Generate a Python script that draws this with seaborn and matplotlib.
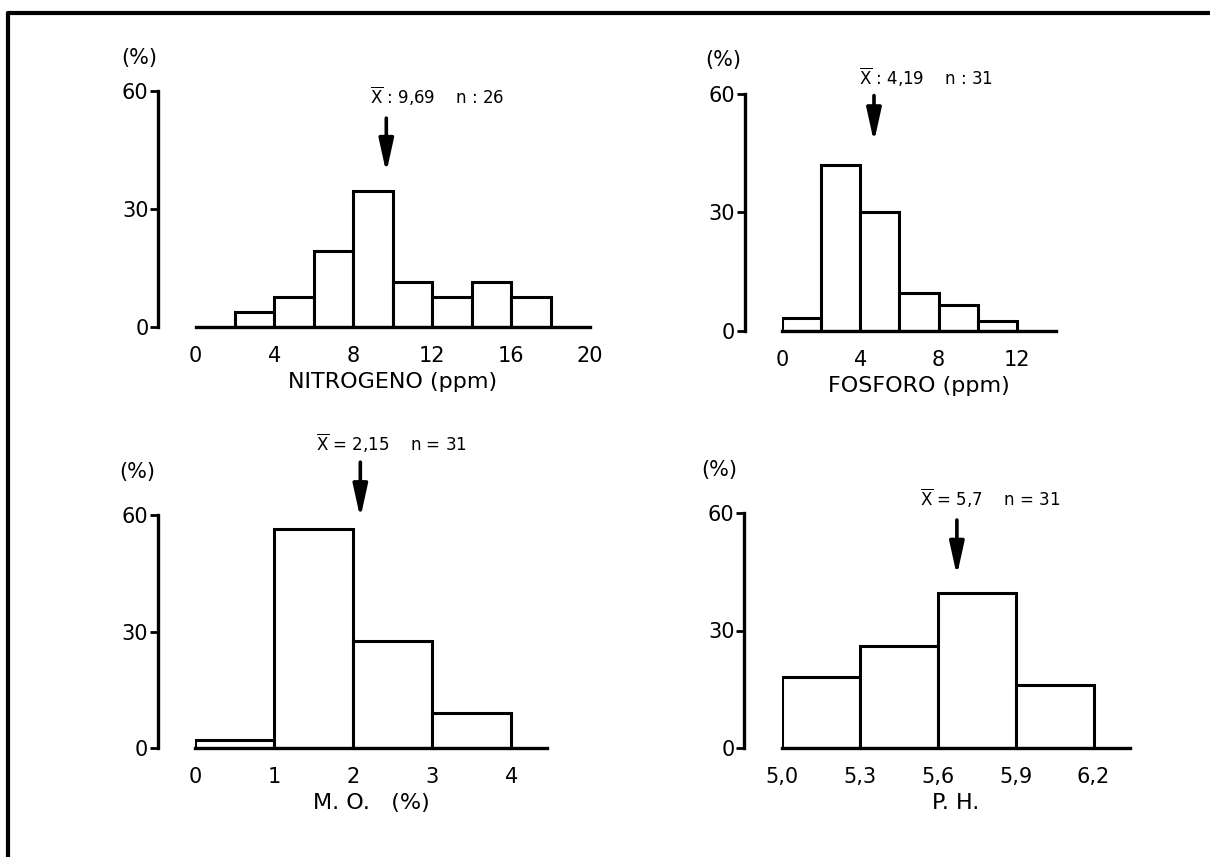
import numpy as np
import pandas as pd
import matplotlib.pyplot as plt
import seaborn as sns
from matplotlib.lines import Line2D

# bin edges and bar heights (% of samples)
nitro_edges = [2, 4, 6, 8, 10, 12, 14, 16, 18]
nitro_pct = [3.8, 7.7, 19.2, 34.6, 11.5, 7.7, 11.5, 7.7]
fosforo_edges = [0, 2, 4, 6, 8, 10, 12]
fosforo_pct = [3.2, 42.0, 30.0, 9.7, 6.5, 2.5]
mo_edges = [0, 1, 2, 3, 4]
mo_pct = [2.0, 56.5, 27.5, 9.0]
ph_edges = [5.0, 5.3, 5.6, 5.9, 6.2]
ph_pct = [18.1, 26.1, 39.7, 16.1]

# axis ticks
nitro_ticks = [0, 4, 8, 12, 16, 20]
fosforo_ticks = [0, 4, 8, 12]
mo_ticks = [0, 1, 2, 3, 4]
ph_ticks = [5.0, 5.3, 5.6, 5.9, 6.2]
ph_ticklabels = ["5,0", "5,3", "5,6", "5,9", "6,2"]
y_ticks = [0, 30, 60]

# mean arrows (x position, tail, tip) and the notes above them
nitro_arrow = (9.67, 53.1, 39.2)
fosforo_arrow = (4.7, 59.6, 47.8)
mo_arrow = (2.09, 73.6, 59.2)
ph_arrow = (5.674, 58.2, 44.0)
nitro_note = r"$\overline{\mathrm{X}}$ : 9,69    n : 26"
fosforo_note = r"$\overline{\mathrm{X}}$ : 4,19    n : 31"
mo_note = r"$\overline{\mathrm{X}}$ = 2,15    n = 31"
ph_note = r"$\overline{\mathrm{X}}$ = 5,7    n = 31"

sns.set_style("white")
plt.rcParams["font.family"] = ["DejaVu Sans"]
plt.rcParams["mathtext.fontset"] = "dejavusans"
plt.rcParams["text.color"] = "black"
plt.rcParams["axes.labelcolor"] = "black"
plt.rcParams["xtick.color"] = "black"
plt.rcParams["ytick.color"] = "black"
plt.rcParams["axes.edgecolor"] = "black"

fig = plt.figure(figsize=(12.1, 8.57), dpi=100)


def draw_panel(rect, edges, pct, xlim, ticks, ticklabels, xlabel,
               arrow, note, note_xy, ylab_off):
    ax = fig.add_axes(rect)
    e = np.array(edges, dtype=float)
    df = pd.DataFrame({"mid": (e[:-1] + e[1:]) / 2, "pct": pct})
    sns.histplot(data=df, x="mid", weights="pct", bins=list(edges), ax=ax,
                 color="white", edgecolor="black", linewidth=2.2, alpha=1)
    ax.set_xlim(*xlim)
    ax.set_ylim(0, 60)
    ax.set_xticks(ticks)
    ax.set_xticklabels(ticklabels)
    ax.set_yticks(y_ticks)
    ax.set_ylabel("")
    ax.set_xlabel(xlabel, fontsize=16, labelpad=4)
    for s in ["top", "right"]:
        ax.spines[s].set_visible(False)
    ax.spines["left"].set_position(("outward", 27))
    ax.spines["left"].set_linewidth(2.4)
    ax.spines["bottom"].set_linewidth(2.4)
    ax.tick_params(axis="y", left=True, direction="out", length=6, width=2,
                   labelsize=15, pad=1)
    ax.tick_params(axis="x", length=0, labelsize=15, pad=14)
    ax.annotate("(%)", xy=(0, 1), xycoords="axes fraction",
                xytext=ylab_off, textcoords="offset pixels",
                ha="center", va="center", fontsize=15)
    ax.annotate("", xy=(arrow[0], arrow[2]), xytext=(arrow[0], arrow[1]),
                arrowprops=dict(arrowstyle="-|>,head_length=1.0,head_width=0.22",
                                color="black", lw=2.6, mutation_scale=20,
                                shrinkA=0, shrinkB=0),
                annotation_clip=False)
    ax.text(note_xy[0], note_xy[1], note, ha="center", va="center",
            fontsize=12, clip_on=False)
    return ax


W, H = 1210, 857


def rect(left, right, top, bottom):
    return [left / W, 1 - bottom / H, (right - left) / W, (bottom - top) / H]


draw_panel(rect(195.6, 590, 91, 327), nitro_edges, nitro_pct, (0, 20),
           nitro_ticks, [str(t) for t in nitro_ticks], "NITROGENO (ppm)",
           nitro_arrow, nitro_note, (12.25, 58.5), (-56, 33))
draw_panel(rect(782, 1056, 94, 331), fosforo_edges, fosforo_pct, (0, 14),
           fosforo_ticks, [str(t) for t in fosforo_ticks], "FOSFORO (ppm)",
           fosforo_arrow, fosforo_note, (7.35, 64.3), (-59, 34))
draw_panel(rect(195, 547, 515, 748), mo_edges, mo_pct, (0, 4.45),
           mo_ticks, [str(t) for t in mo_ticks], "M. O.   (%)",
           mo_arrow, mo_note, (2.48, 78.5), (-58, 43))
draw_panel(rect(781.7, 1130, 513, 748), ph_edges, ph_pct, (5.0, 6.34),
           ph_ticks, ph_ticklabels, "P. H.",
           ph_arrow, ph_note, (5.80, 63.6), (-62, 43))

# page border (top and left edge of the scan)
fig.add_artist(Line2D([8 / W, 1], [1 - 13 / H, 1 - 13 / H], color="black", lw=3))
fig.add_artist(Line2D([8 / W, 8 / W], [0, 1 - 13 / H], color="black", lw=3))

fig.savefig("out.png", dpi=100)
